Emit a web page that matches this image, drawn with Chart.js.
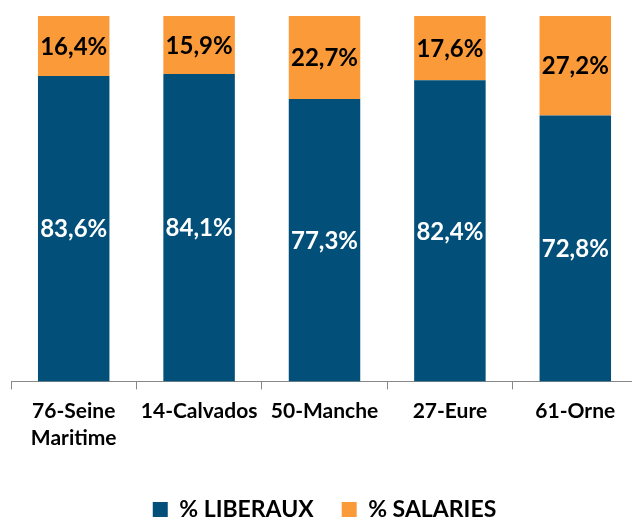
<!doctype html>
<html lang="fr">
<head>
    <meta charset="utf-8">
    <title>Liberaux / Salaries</title>
    <style>
        * { margin: 0; padding: 0; }
        html, body { overflow: hidden; background: white; }
        .chartBox { width: 640px; height: 531px; }
    </style>
</head>
<body>
    <div class="chartBox">
        <canvas id="myChart"></canvas>
    </div>

    <script src="https://cdn.jsdelivr.net/npm/chart.js"></script>
    <script>
        const categories = [['76-Seine', 'Maritime'], '14-Calvados', '50-Manche', '27-Eure', '61-Orne']
        const liberaux = [83.6, 84.1, 77.3, 82.4, 72.8]
        const salaries = [16.4, 15.9, 22.7, 17.6, 27.2]
        const seriesNames = ['% LIBERAUX', '% SALARIES']

        const FONT = 'Lato, sans-serif'

        // draw value labels in the middle of each segment
        const barLabels = {
            id: 'barLabels',
            afterDatasetsDraw(chart) {
                const ctx = chart.ctx
                ctx.save()
                ctx.font = 'bold 24px ' + FONT
                ctx.textAlign = 'center'
                ctx.textBaseline = 'middle'
                chart.data.datasets.forEach((ds, i) => {
                    const meta = chart.getDatasetMeta(i)
                    meta.data.forEach((bar, j) => {
                        const { x, y, base } = bar.getProps(['x', 'y', 'base'], true)
                        ctx.fillStyle = i === 0 ? '#ffffff' : '#000000'
                        const txt = ds.data[j].toFixed(1).replace('.', ',') + '%'
                        ctx.fillText(txt, x, (y + base) / 2 + 1)
                    })
                })
                ctx.restore()
            }
        }

        const data = {
            labels: categories,
            datasets: [
                {
                    label: seriesNames[0],
                    data: liberaux,
                    backgroundColor: '#02507A'
                },
                {
                    label: seriesNames[1],
                    data: salaries,
                    backgroundColor: '#FA9A38'
                }
            ]
        }

        const config = {
            type: 'bar',
            data: data,
            options: {
                responsive: true,
                maintainAspectRatio: false,
                animation: false,
                datasets: {
                    bar: {
                        categoryPercentage: 1,
                        barPercentage: 0.57
                    }
                },
                layout: {
                    padding: { top: 16, left: 11, right: 2, bottom: 0 }
                },
                plugins: {
                    tooltip: { enabled: false },
                    legend: {
                        position: 'bottom',
                        labels: {
                            boxWidth: 15,
                            boxHeight: 15,
                            padding: 28,
                            color: '#000',
                            font: { family: FONT, size: 23, weight: 'bold', lineHeight: 1.2 }
                        }
                    }
                },
                scales: {
                    x: {
                        stacked: true,
                        border: { color: '#888888', width: 1 },
                        grid: {
                            drawOnChartArea: false,
                            color: '#888888',
                            tickLength: 8
                        },
                        ticks: {
                            color: '#000',
                            padding: 8,
                            maxRotation: 0,
                            autoSkip: false,
                            font: { family: FONT, size: 21, weight: 'bold', lineHeight: 1.3 }
                        },
                        afterFit(scale) {
                            scale.height += 10
                        }
                    },
                    y: {
                        stacked: true,
                        display: false,
                        min: 0,
                        max: 100
                    }
                }
            },
            plugins: [barLabels]
        }

        const myChart = new Chart(document.getElementById('myChart'), config)
    </script>
</body>
</html>
